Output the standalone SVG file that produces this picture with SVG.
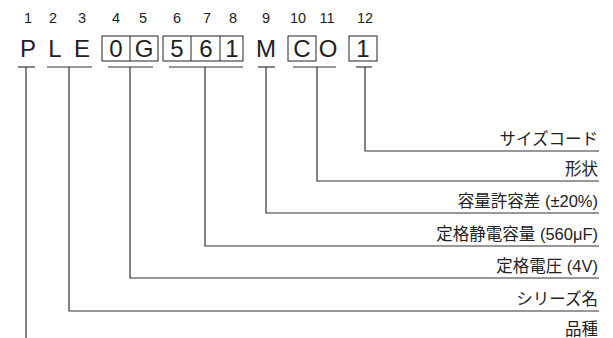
<svg xmlns="http://www.w3.org/2000/svg" width="613" height="338" viewBox="0 0 613 338">
<style>
.num{font-family:"Liberation Sans","Noto Sans CJK JP",sans-serif;font-size:14.5px;fill:#222;text-anchor:middle}
.chr{font-family:"Liberation Sans","Noto Sans CJK JP",sans-serif;font-size:24px;fill:#222;text-anchor:middle}
.lbl{font-family:"Liberation Sans","Noto Sans CJK JP",sans-serif;font-size:16.5px;fill:#222;text-anchor:end}
.box{fill:none;stroke:#222;stroke-width:1}
.ln{fill:none;stroke:#333;stroke-width:1.2}
</style>
<rect width="613" height="338" fill="#fff"/>
<g id="numbers">
<text class="num" x="28" y="23">1</text>
<text class="num" x="53" y="23">2</text>
<text class="num" x="82" y="23">3</text>
<text class="num" x="116" y="23">4</text>
<text class="num" x="143" y="23">5</text>
<text class="num" x="177" y="23">6</text>
<text class="num" x="207" y="23">7</text>
<text class="num" x="233" y="23">8</text>
<text class="num" x="266" y="23">9</text>
<text class="num" x="298" y="23">10</text>
<text class="num" x="327" y="23">11</text>
<text class="num" x="365" y="23">12</text>
</g>
<g id="code">
<rect class="box" x="102" y="36" width="56" height="25"/>
<line class="box" x1="130" y1="36" x2="130" y2="61"/>
<rect class="box" x="163" y="36" width="80" height="25"/>
<line class="box" x1="191" y1="36" x2="191" y2="61"/>
<line class="box" x1="220" y1="36" x2="220" y2="61"/>
<rect class="box" x="288" y="36" width="28" height="25"/>
<rect class="box" x="349" y="36" width="28" height="25"/>
<text class="chr" x="28" y="57">P</text>
<text class="chr" x="55" y="57">L</text>
<text class="chr" x="82" y="57">E</text>
<text class="chr" x="116" y="57">0</text>
<text class="chr" x="144" y="57">G</text>
<text class="chr" x="177" y="57">5</text>
<text class="chr" x="206" y="57">6</text>
<text class="chr" x="232" y="57">1</text>
<text class="chr" x="266" y="57">M</text>
<text class="chr" x="302" y="57">C</text>
<text class="chr" x="328" y="57">O</text>
<text class="chr" x="363" y="57">1</text>
</g>
<g id="connectors">
<line class="ln" x1="18" y1="67" x2="35" y2="67"/>
<line class="ln" x1="47" y1="67" x2="92" y2="67"/>
<line class="ln" x1="108" y1="67" x2="153" y2="67"/>
<line class="ln" x1="169" y1="67" x2="243" y2="67"/>
<line class="ln" x1="258" y1="67" x2="275" y2="67"/>
<line class="ln" x1="293" y1="67" x2="336" y2="67"/>
<line class="ln" x1="356" y1="67" x2="372" y2="67"/>
<polyline class="ln" points="365,67 365,151 599,151"/>
<polyline class="ln" points="317,67 317,181 599,181"/>
<polyline class="ln" points="266,67 266,213 599,213"/>
<polyline class="ln" points="205,67 205,246 599,246"/>
<polyline class="ln" points="130,67 130,278 599,278"/>
<polyline class="ln" points="69,67 69,311 599,311"/>
<line class="ln" x1="26" y1="67" x2="26" y2="338"/>
</g>
<g id="labels">
<text class="lbl" x="598" y="145">サイズコード</text>
<text class="lbl" x="598" y="175">形状</text>
<text class="lbl" x="598" y="207">容量許容差 (±20%)</text>
<text class="lbl" x="598" y="240">定格静電容量 (560μF)</text>
<text class="lbl" x="598" y="272">定格電圧 (4V)</text>
<text class="lbl" x="598" y="305">シリーズ名</text>
<text class="lbl" x="598" y="335">品種</text>
</g>
</svg>
